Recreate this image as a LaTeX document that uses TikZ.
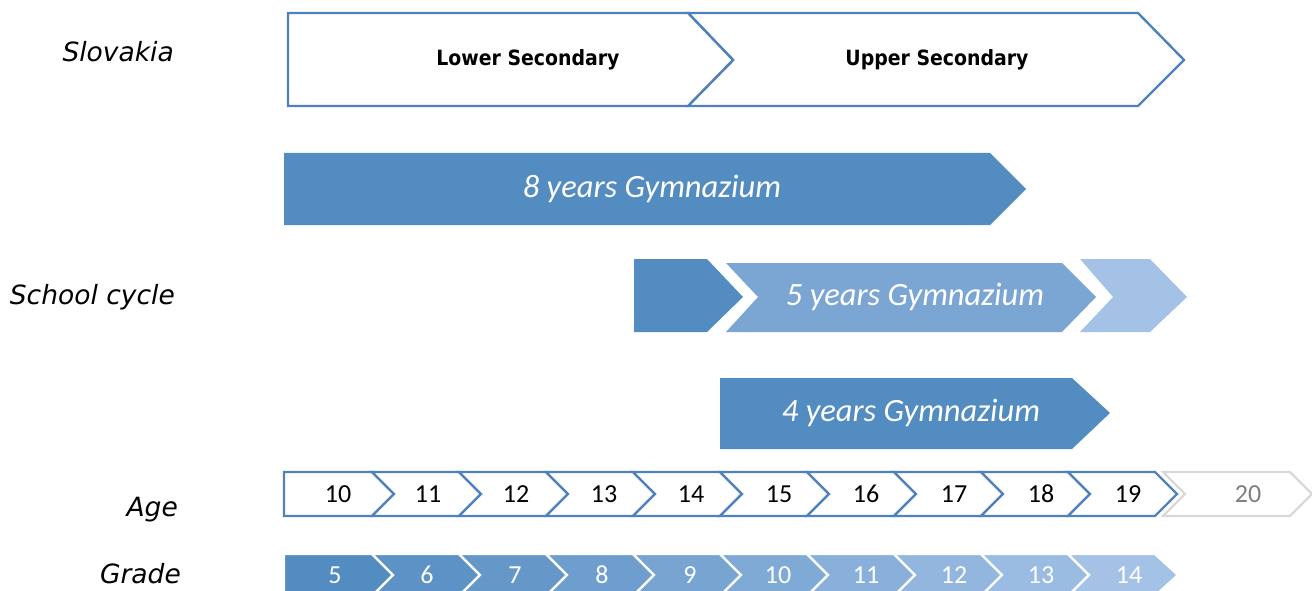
\documentclass[tikz,border=0pt]{standalone}
\usepackage{fontspec}
\newfontfamily\labfont{DejaVu Sans}
\newfontfamily\headfont{DejaVu Sans Condensed}
\newfontfamily\numfont{Carlito}
\definecolor{frameblue}{RGB}{79,129,189}
\definecolor{gymdark}{RGB}{83,140,193}
\definecolor{gymmid}{RGB}{123,166,212}
\definecolor{gymlight}{RGB}{164,194,230}
\definecolor{agegrey}{RGB}{217,217,217}
\definecolor{numgrey}{RGB}{127,127,127}
\colorlet{gr5}{gymdark}
\colorlet{gr6}{gymdark!89!gymlight}
\colorlet{gr7}{gymdark!78!gymlight}
\colorlet{gr8}{gymdark!67!gymlight}
\colorlet{gr9}{gymdark!56!gymlight}
\colorlet{gr10}{gymdark!44!gymlight}
\colorlet{gr11}{gymdark!33!gymlight}
\colorlet{gr12}{gymdark!22!gymlight}
\colorlet{gr13}{gymdark!11!gymlight}
\colorlet{gr14}{gymlight}
\tikzset{
  rowlabel/.style={anchor=east, inner sep=0pt, font=\labfont\itshape\fontsize{26.5}{31}\selectfont},
  stagebox/.style={draw=frameblue, line width=2.4pt, fill=white, line join=miter},
  stagetext/.style={font=\headfont\bfseries\fontsize{21}{25}\selectfont},
  gymtext/.style={text=white, font=\numfont\itshape\fontsize{32.5}{38}\selectfont},
  agecell/.style={draw=frameblue, line width=2.4pt, fill=white},
  agetext/.style={font=\numfont\fontsize{26}{31}\selectfont},
  gradecell/.style={draw=white, line width=2.4pt},
  gradetext/.style={text=white, font=\numfont\fontsize{26}{31}\selectfont},
}
\begin{document}
\begin{tikzpicture}[x=1pt, y=-1pt]
\useasboundingbox (0,0) rectangle (1312,591);
% row labels
\node[rowlabel] (lslovakia) at (174,52) {Slovakia};
\node[rowlabel] (lcycle) at (175,297) {School cycle};
\node[rowlabel] (lage) at (178,510) {Age};
\node[rowlabel] (lgrade) at (181,574) {Grade};
% stages
\draw[stagebox] (688,13) -- (1138,13) -- (1184,60) -- (1138,106) -- (688,106) -- (733,60) -- cycle;
\draw[stagebox] (288,13) -- (688,13) -- (733,60) -- (688,106) -- (288,106) -- cycle;
\node[stagetext] (lower) at (528,60) {Lower Secondary};
\node[stagetext] (upper) at (937,60) {Upper Secondary};
% 8 years
\fill[gymdark] (284,153) -- (990,153) -- (1026,189) -- (990,225) -- (284,225) -- cycle;
\node[gymtext] (gym8) at (652,189) {8 years Gymnazium};
% 5 years
\fill[gymdark] (634,259) -- (707,259) -- (743,297) -- (707,332) -- (634,332) -- cycle;
\fill[gymmid] (726,263) -- (1062,263) -- (1096,297) -- (1062,332) -- (726,332) -- (758,297) -- cycle;
\fill[gymlight] (1080,259) -- (1150,259) -- (1187,297) -- (1150,332) -- (1080,332) -- (1113,297) -- cycle;
\node[gymtext] (gym5) at (915,297) {5 years Gymnazium};
% 4 years
\fill[gymdark] (720,378) -- (1072,378) -- (1110,413) -- (1072,449) -- (720,449) -- cycle;
\node[gymtext] (gym4) at (911,413) {4 years Gymnazium};
% age
\draw[agecell] (284,472) -- (372,472) -- (394,494) -- (372,516) -- (284,516) -- cycle;
\draw[agecell] (372,472) -- (459,472) -- (481,494) -- (459,516) -- (372,516) -- (394,494) -- cycle;
\draw[agecell] (459,472) -- (546,472) -- (568,494) -- (546,516) -- (459,516) -- (481,494) -- cycle;
\draw[agecell] (546,472) -- (633,472) -- (655,494) -- (633,516) -- (546,516) -- (568,494) -- cycle;
\draw[agecell] (633,472) -- (720,472) -- (742,494) -- (720,516) -- (633,516) -- (655,494) -- cycle;
\draw[agecell] (720,472) -- (807,472) -- (829,494) -- (807,516) -- (720,516) -- (742,494) -- cycle;
\draw[agecell] (807,472) -- (894,472) -- (916,494) -- (894,516) -- (807,516) -- (829,494) -- cycle;
\draw[agecell] (894,472) -- (981,472) -- (1003,494) -- (981,516) -- (894,516) -- (916,494) -- cycle;
\draw[agecell] (981,472) -- (1068,472) -- (1090,494) -- (1068,516) -- (981,516) -- (1003,494) -- cycle;
\draw[agecell] (1068,472) -- (1155,472) -- (1177,494) -- (1155,516) -- (1068,516) -- (1090,494) -- cycle;
\draw[agecell, draw=agegrey] (1163,472) -- (1290,472) -- (1312,494) -- (1290,516) -- (1163,516) -- (1185,494) -- cycle;
\node[agetext] (age10) at (338,494) {10};
\node[agetext] (age11) at (428,494) {11};
\node[agetext] (age12) at (516,494) {12};
\node[agetext] (age13) at (604,494) {13};
\node[agetext] (age14) at (691,494) {14};
\node[agetext] (age15) at (779,494) {15};
\node[agetext] (age16) at (866,494) {16};
\node[agetext] (age17) at (954,494) {17};
\node[agetext] (age18) at (1041,494) {18};
\node[agetext] (age19) at (1128,494) {19};
\node[agetext, text=numgrey] (age20) at (1248,494) {20};
% grade
\filldraw[gradecell, fill=gr5] (284,554) -- (372,554) -- (393,575) -- (372,596) -- (284,596) -- cycle;
\filldraw[gradecell, fill=gr6] (372,554) -- (459,554) -- (480,575) -- (459,596) -- (372,596) -- (393,575) -- cycle;
\filldraw[gradecell, fill=gr7] (459,554) -- (546,554) -- (567,575) -- (546,596) -- (459,596) -- (480,575) -- cycle;
\filldraw[gradecell, fill=gr8] (546,554) -- (633,554) -- (654,575) -- (633,596) -- (546,596) -- (567,575) -- cycle;
\filldraw[gradecell, fill=gr9] (633,554) -- (720,554) -- (741,575) -- (720,596) -- (633,596) -- (654,575) -- cycle;
\filldraw[gradecell, fill=gr10] (720,554) -- (807,554) -- (828,575) -- (807,596) -- (720,596) -- (741,575) -- cycle;
\filldraw[gradecell, fill=gr11] (807,554) -- (894,554) -- (915,575) -- (894,596) -- (807,596) -- (828,575) -- cycle;
\filldraw[gradecell, fill=gr12] (894,554) -- (981,554) -- (1002,575) -- (981,596) -- (894,596) -- (915,575) -- cycle;
\filldraw[gradecell, fill=gr13] (981,554) -- (1068,554) -- (1089,575) -- (1068,596) -- (981,596) -- (1002,575) -- cycle;
\filldraw[gradecell, fill=gr14] (1068,554) -- (1155,554) -- (1178,575) -- (1155,596) -- (1068,596) -- (1089,575) -- cycle;
\node[gradetext] (grade5) at (335,575) {5};
\node[gradetext] (grade6) at (427,575) {6};
\node[gradetext] (grade7) at (515,575) {7};
\node[gradetext] (grade8) at (602,575) {8};
\node[gradetext] (grade9) at (690,575) {9};
\node[gradetext] (grade10) at (778,575) {10};
\node[gradetext] (grade11) at (866,575) {11};
\node[gradetext] (grade12) at (954,575) {12};
\node[gradetext] (grade13) at (1041,575) {13};
\node[gradetext] (grade14) at (1129,575) {14};
\end{tikzpicture}
\end{document}
